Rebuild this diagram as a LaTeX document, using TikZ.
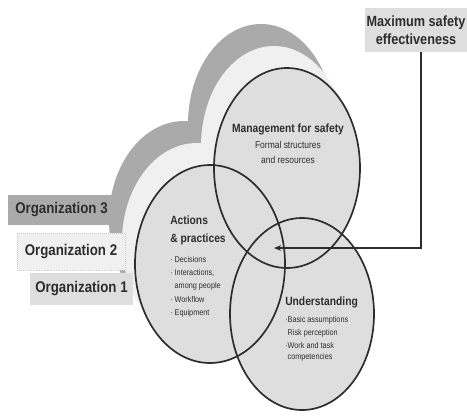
\documentclass[tikz,border=0pt]{standalone}
\usepackage{fontspec}
\newfontfamily\condsans[FakeStretch=0.86]{Liberation Sans}
\usetikzlibrary{positioning, arrows.meta, calc}
\definecolor{orgdark}{RGB}{170,170,170}
\definecolor{orglight}{RGB}{240,240,240}
\definecolor{orgmain}{RGB}{222,222,222}
\definecolor{inkgray}{RGB}{45,45,45}
\tikzset{
    orgbox/.style={rectangle, inner sep=0pt, align=center, text=inkgray, font=\condsans\bfseries\fontsize{11}{13}\selectfont},
    goalbox/.style={rectangle, inner sep=0pt, fill=orgmain, align=center, text=inkgray, font=\condsans\bfseries\fontsize{10.5}{12.5}\selectfont},
    ringline/.style={draw=inkgray, line width=1.2pt},
    headtxt/.style={inner sep=0pt, text=inkgray, font=\condsans\bfseries\fontsize{8.5}{12.5}\selectfont},
    itemtxt/.style={inner sep=0pt, align=left, text=inkgray, font=\condsans\fontsize{6}{9.4}\selectfont},
    arr/.style={-{Stealth[length=5pt, width=4pt]}, line width=0.8pt, color=inkgray}
}
\begin{document}
\begin{tikzpicture}[x=0.025cm, y=-0.025cm]
        \useasboundingbox[fill=white] (0,0) rectangle (467,417);

        % Shadow layers (Organization 3 and 2)
        \fill[orgdark] (261,124) ellipse [x radius=73, y radius=100]
                       (184,220) ellipse [x radius=75, y radius=99];
        \fill[orglight] (274,146) ellipse [x radius=73, y radius=100]
                        (197,242) ellipse [x radius=75, y radius=99];

        % Organization 1 rings
        \fill[orgmain] (287,168) ellipse [x radius=73, y radius=100]
                       (210,264) ellipse [x radius=75, y radius=99]
                       (302,314) ellipse [x radius=72, y radius=96];
        \draw[ringline] (287,168) ellipse [x radius=73, y radius=100];
        \draw[ringline] (210,264) ellipse [x radius=75, y radius=99];
        \draw[ringline] (302,314) ellipse [x radius=72, y radius=96];

        % Ring texts
        \node[headtxt, anchor=north, align=center] (mgmt) at (288,124)
            {Management for safety\\[-1.5pt]{\mdseries\fontsize{7}{9}\selectfont Formal structures}\\[-1.5pt]{\mdseries\fontsize{7}{9}\selectfont and resources}};
        \node[headtxt, anchor=north west, align=left] (actions) at (170,216) {Actions\\\& practices};
        \node[itemtxt, anchor=north west] (actitems) at (170,256)
            {· Decisions\\· Interactions,\\\phantom{· }among people\\· Workflow\\· Equipment};
        \node[headtxt, anchor=north west, align=left] (underst) at (285,297) {Understanding};
        \node[itemtxt, anchor=north west] (unditems) at (285,316)
            {·Basic assumptions\\\phantom{·}Risk perception\\·Work and task\\[-1.5pt]\phantom{·}competencies};

        % Organization labels
        \node[orgbox, fill=orgdark, minimum width=2.68cm, minimum height=0.75cm] (org3) at (61.5,210) {Organization 3};
        \node[orgbox, fill=orglight, draw=orgdark!60, densely dotted, minimum width=2.7cm, minimum height=0.92cm] (org2) at (71,251.5) {Organization 2};
        \node[orgbox, fill=orgmain, minimum width=2.58cm, minimum height=0.8cm] (org1) at (81.5,289) {Organization 1};

        % Goal and arrow to the common core
        \node[goalbox, minimum width=2.55cm, minimum height=1.1cm] (maxbox) at (416,30) {Maximum safety\\effectiveness};
        \coordinate (hub) at (274,248);
        \draw[arr] ($(maxbox.south)+(5,0)$) |- (hub);
\end{tikzpicture}
\end{document}
